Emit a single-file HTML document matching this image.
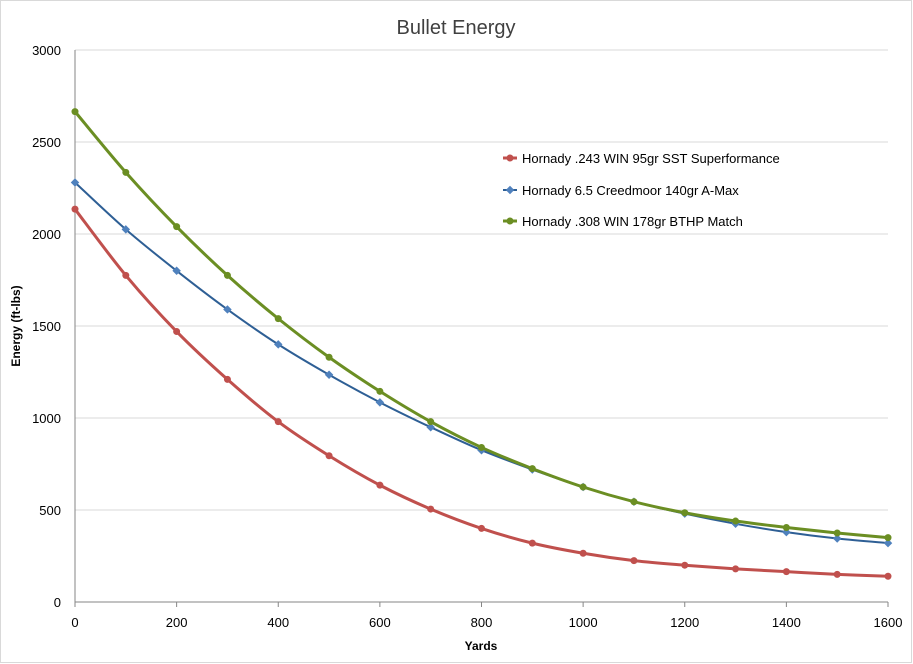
<!DOCTYPE html>
<html><head><style>
body{margin:0;background:#fff;}
svg{display:block;font-family:"Liberation Sans",sans-serif;}
</style></head><body>
<svg id="s" width="913" height="664" viewBox="0 0 913 664">
<rect x="0.5" y="0.5" width="911" height="662" fill="#fff" stroke="#d9d9d9"/>
<text x="456" y="34" font-size="20" text-anchor="middle" fill="#404040">Bullet Energy</text>
<g id="grid"></g>
<g id="series"></g>
<text x="20" y="326" font-size="12" font-weight="bold" text-anchor="middle" transform="rotate(-90 20 326)" fill="#000">Energy (ft-lbs)</text>
<text x="481" y="650" font-size="12" font-weight="bold" text-anchor="middle" fill="#000">Yards</text>
<g font-size="13" fill="#000">
<line x1="503" y1="158" x2="517" y2="158" stroke="#C0504D" stroke-width="3"/><circle cx="510" cy="158" r="3.5" fill="#C0504D"/>
<text x="522" y="163">Hornady .243 WIN 95gr SST Superformance</text>
<line x1="503" y1="190" x2="517" y2="190" stroke="#2E5F95" stroke-width="2"/><rect x="507" y="187" width="6" height="6" fill="#4F81BD" transform="rotate(45 510 190)"/>
<text x="522" y="195">Hornady 6.5 Creedmoor 140gr A-Max</text>
<line x1="503" y1="221" x2="517" y2="221" stroke="#6B8E23" stroke-width="3"/><circle cx="510" cy="221" r="3.5" fill="#6B8E23"/>
<text x="522" y="226">Hornady .308 WIN 178gr BTHP Match</text>
</g>
</svg>
<script>
var NS="http://www.w3.org/2000/svg";
function el(t,a,p){var e=document.createElementNS(NS,t);for(var k in a)e.setAttribute(k,a[k]);p.appendChild(e);return e;}
var X0=75,X1=888,Y0=602,Y1=50;
function px(v){return X0+(X1-X0)*v/1600;}function py(v){return Y0-(Y0-Y1)*v/3000;}
var g=document.getElementById('grid');
for(var v=0;v<=3000;v+=500){el('line',{x1:X0,x2:X1,y1:py(v),y2:py(v),stroke:v==0?'#868686':'#d9d9d9'},g);
var t=el('text',{x:X0-14,y:py(v)+5,'font-size':13,'text-anchor':'end',fill:'#000'},g);t.textContent=v;}
el('line',{x1:X0,x2:X0,y1:Y1,y2:Y0,stroke:'#868686'},g);
for(var v=0;v<=1600;v+=200){el('line',{x1:px(v),x2:px(v),y1:Y0,y2:Y0+5,stroke:'#868686'},g);
var t=el('text',{x:px(v),y:627,'font-size':13,'text-anchor':'middle',fill:'#000'},g);t.textContent=v;}
var data=[
{c:'#C0504D',w:3,m:'c',d:[2135,1775,1470,1210,980,795,635,505,400,320,265,225,200,180,165,150,140]},
{c:'#2E5F95',mc:'#4F81BD',w:2,m:'d',d:[2280,2025,1800,1590,1400,1235,1085,950,825,720,625,545,480,425,380,345,320]},
{c:'#6B8E23',w:3,m:'c',d:[2665,2335,2040,1775,1540,1330,1145,980,840,725,625,545,485,440,405,375,350]}];
var s=document.getElementById('series');
data.forEach(function(o){var P=o.d.map(function(v,i){return [px(i*100),py(v)];});
var d='M'+P[0];for(var i=0;i<P.length-1;i++){var p0=P[Math.max(0,i-1)],p1=P[i],p2=P[i+1],p3=P[Math.min(P.length-1,i+2)];
d+='C'+(p1[0]+(p2[0]-p0[0])/6)+','+(p1[1]+(p2[1]-p0[1])/6)+' '+(p2[0]-(p3[0]-p1[0])/6)+','+(p2[1]-(p3[1]-p1[1])/6)+' '+p2;}
el('path',{d:d,fill:'none',stroke:o.c,'stroke-width':o.w},s);
P.forEach(function(p){if(o.m=='c')el('circle',{cx:p[0],cy:p[1],r:3.5,fill:o.c},s);
else el('rect',{x:p[0]-3,y:p[1]-3,width:6,height:6,fill:o.mc,transform:'rotate(45 '+p[0]+' '+p[1]+')'},s);});});
</script>
</body></html>
